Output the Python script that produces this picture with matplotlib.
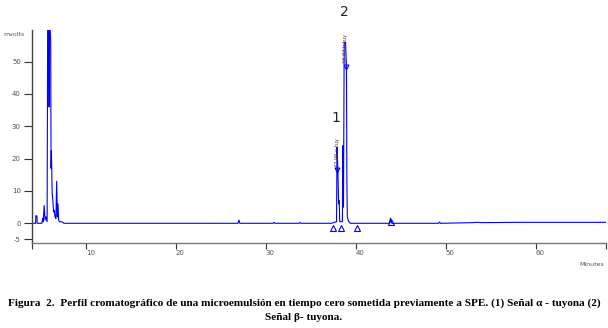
import matplotlib.pyplot as plt

# =========================
# Configs
# =========================
OUTPUT_PATH = "out.png"
BLUE = "#0000ff"
GRAY = "#555555"

# =========================
# Data
# =========================
time_min = [4.0, 4.40, 4.42, 4.55, 4.57, 5.10, 5.20, 5.25, 5.35, 5.45, 5.55, 5.68,
            5.74, 5.85, 5.90, 5.95, 6.08, 6.12, 6.16, 6.24, 6.32, 6.40, 6.48, 6.56,
            6.66, 6.74, 6.82, 6.89, 6.96, 7.05, 7.40, 7.55,
            26.9, 27.0, 27.1, 30.8, 30.9, 31.0, 33.7, 33.8, 33.9,
            37.3, 37.85, 37.9, 38.0, 38.08, 38.15, 38.2, 38.5, 38.55, 38.62,
            38.7, 38.85, 38.95, 39.0, 39.05, 39.2, 39.4,
            43.7, 43.85, 44.0, 49.2, 49.3, 49.4, 53.0, 53.5, 54.0, 58.5, 67.8]
signal_mv = [0.0, 0.0, 2.3, 2.3, 0.0, 0.0, 1.5, 0.5, 5.5, 1.0, 2.0, 0.5,
             62.0, 62.0, 36.0, 65.0, 56.0, 17.0, 22.5, 9.5, 7.0, 3.5, 4.0, 2.0,
             1.5, 13.0, 2.0, 6.0, 1.0, 0.5, 0.4, 0.0,
             0.0, 1.0, 0.0, 0.0, 0.3, 0.0, 0.0, 0.25, 0.0,
             0.0, 0.5, 23.5, 16.5, 6.0, 7.0, 0.5, 0.5, 24.0, 5.0,
             56.0, 56.0, 48.0, 12.0, 2.0, 0.5, 0.0,
             0.0, 1.6, 0.0, 0.0, 0.4, 0.0, 0.2, 0.3, 0.2, 0.3, 0.3]

# peak apex markers and baseline (integration) markers
apex_t = [37.95, 38.85]
apex_mv = [16.5, 48.5]
base_t = [37.45, 38.4, 40.1, 43.85]
base_mv = [-1.4, -1.4, -1.4, 0.4]

# peak numbers
peak_labels = ["1", "2"]
peak_label_t = [37.75, 38.7]
peak_label_mv = [32.5, 65.5]

y_ticks = [-5, 0, 10, 20, 30, 40, 50]
x_ticks = [10, 20, 30, 40, 50, 60]

CAPTION_1 = ("Figura  2.  Perfil cromatográfico de una microemulsión en tiempo cero sometida "
             "previamente a SPE. (1) Señal α - tuyona (2)")
CAPTION_2 = "Señal β- tuyona."


# =========================
# Plot
# =========================
def plot_chromatogram():
    fig = plt.figure(figsize=(6.08, 3.28), dpi=100)
    ax = fig.add_axes([32 / 608, 1 - 243 / 328, 574 / 608, 213 / 328])

    ax.plot(time_min, signal_mv, color=BLUE, lw=0.8, clip_on=True)
    ax.plot(apex_t, apex_mv, ls="none", marker="v", ms=3.5, mfc="none",
            mec=BLUE, mew=0.8)
    ax.plot(base_t, base_mv, ls="none", marker="^", ms=4, mfc="none",
            mec=BLUE, mew=0.8, clip_on=False)

    # tiny stacked peak annotations from the software
    ax.text(37.95, 17.5, "37.96 a-tuy", rotation=90, fontsize=3.6,
            color="#5a3c10", ha="center", va="bottom")
    ax.text(38.85, 49.5, "38.84 b-tuy", rotation=90, fontsize=3.6,
            color="#5a3c10", ha="center", va="bottom")

    for lab, t, v in zip(peak_labels, peak_label_t, peak_label_mv):
        ax.text(t, v, lab, fontsize=10, ha="center", va="center",
                color="#222222", clip_on=False)

    ax.set_xlim(4.0, 67.8)
    ax.set_ylim(-6.1, 59.8)

    ax.set_yticks(y_ticks)
    ax.set_yticklabels([str(v) for v in y_ticks])
    ax.set_xticks([4.0] + x_ticks + [67.8])
    ax.set_xticklabels([""] + [str(v) for v in x_ticks] + [""])
    for lab in ax.get_xticklabels():
        lab.set_horizontalalignment("left")

    ax.tick_params(axis="y", length=6, width=0.8, color="#333333",
                   labelsize=5, labelcolor=GRAY, pad=2)
    ax.tick_params(axis="x", length=4, width=0.8, color="#333333",
                   labelsize=5, labelcolor=GRAY, pad=1)

    for side in ["top", "right"]:
        ax.spines[side].set_visible(False)
    ax.spines["left"].set_color("#444444")
    ax.spines["bottom"].set_color("#777777")
    ax.spines["left"].set_linewidth(1.0)
    ax.spines["bottom"].set_linewidth(1.0)

    fig.text(3 / 608, 1 - 34 / 328, "mvolts", fontsize=4.5, color=GRAY,
             ha="left", va="center")
    fig.text(604 / 608, 1 - 265 / 328, "Minutes", fontsize=4.5, color=GRAY,
             ha="right", va="center")

    fig.text(0.5, 1 - 303 / 328, CAPTION_1, family="Liberation Serif",
             fontweight="bold", fontsize=8.1, ha="center", va="center")
    fig.text(0.5, 1 - 318 / 328, CAPTION_2, family="Liberation Serif",
             fontweight="bold", fontsize=8.1, ha="center", va="center")

    fig.savefig(OUTPUT_PATH, dpi=100)
    plt.close(fig)


# =========================
# main
# =========================
def main():
    plot_chromatogram()
    print("Saved:", OUTPUT_PATH)


if __name__ == "__main__":
    main()
